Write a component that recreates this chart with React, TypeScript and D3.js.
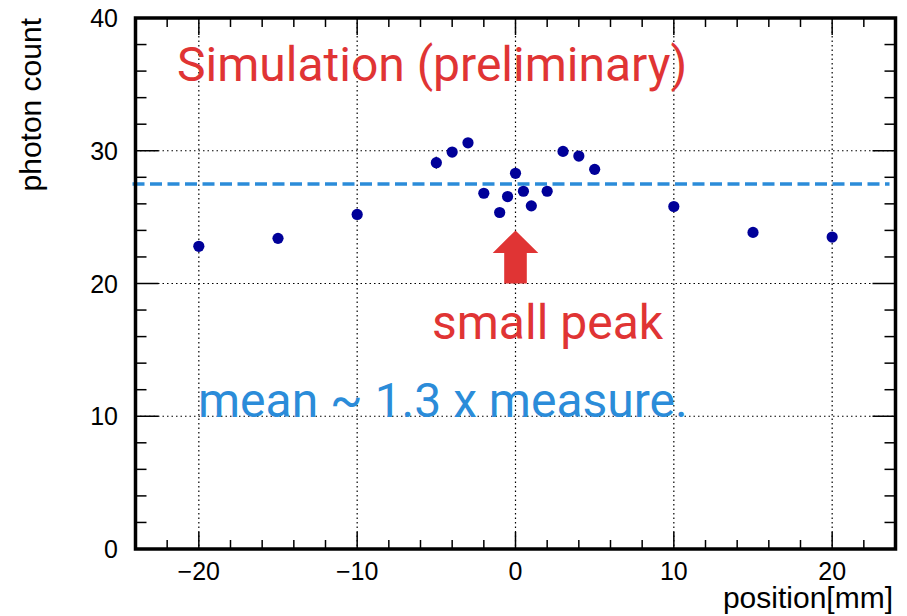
import React from "react";
import * as d3 from "d3";

const positions = [-20, -15, -10, -5, -4, -3, -2, -1, -0.5, 0, 0.5, 1, 2, 3, 4, 5, 10, 15, 20];
const photonCounts = [22.8, 23.4, 25.2, 29.1, 29.9, 30.6, 26.8, 25.35, 26.55, 28.3, 26.95, 25.85, 26.95, 29.95, 29.6, 28.6, 25.8, 23.85, 23.5];
const meanLevel = 27.5;
const xMajorTicks = [-20, -10, 0, 10, 20];
const yMajorTicks = [0, 10, 20, 30, 40];
const xTickLabels = ["\u221220", "\u221210", "0", "10", "20"];
const yTickLabels = ["0", "10", "20", "30", "40"];
const arrowPos = 0;
const arrowFrom = 20;
const arrowTo = 24;

const W = 907;
const H = 616;
const L = 135.5, R = 895.5, T = 18, B = 549;

export default function App() {
  const x = d3.scaleLinear().domain([-24, 24]).range([L, R]);
  const y = d3.scaleLinear().domain([0, 40]).range([B, T]);
  const xMinor = d3.range(-24, 24.01, 2).filter((v) => !xMajorTicks.includes(v));
  const yMinor = d3.range(0, 40.01, 2).filter((v) => !yMajorTicks.includes(v));
  const red = "#e03434";
  const blue = "#2b8cd9";
  const dot = "#000099";
  const tipY = y(arrowTo);
  const ax = x(arrowPos);
  const headBase = tipY + 22.5;
  const arrowPts = [
    [ax, tipY],
    [ax + 22.8, headBase],
    [ax + 11.3, headBase],
    [ax + 11.3, y(arrowFrom)],
    [ax - 11.3, y(arrowFrom)],
    [ax - 11.3, headBase],
    [ax - 22.8, headBase],
  ];
  const labelFont = "'Liberation Sans', Arial, Helvetica, sans-serif";
  const annFont = "Roboto, 'Noto Sans', sans-serif";

  return (
    <svg width={W} height={H} style={{ position: "absolute", left: 0, top: 0, background: "#fff" }}>
      <rect x={0} y={0} width={W} height={H} fill="#fff" />
      {/* grid */}
      {xMajorTicks.map((v) => (
        <line key={"gx" + v} x1={x(v)} x2={x(v)} y1={T} y2={B} stroke="#000" strokeWidth={1.2} strokeDasharray="1.5,3" />
      ))}
      {yMajorTicks.filter((v) => v > 0 && v < 40).map((v) => (
        <line key={"gy" + v} x1={L} x2={R} y1={y(v)} y2={y(v)} stroke="#000" strokeWidth={1.2} strokeDasharray="1.5,3" />
      ))}
      {/* ticks */}
      {xMajorTicks.map((v) => (
        <g key={"xt" + v}>
          <line x1={x(v)} x2={x(v)} y1={B} y2={B - 17} stroke="#000" strokeWidth={1.5} />
          <line x1={x(v)} x2={x(v)} y1={T} y2={T + 17} stroke="#000" strokeWidth={1.5} />
        </g>
      ))}
      {xMinor.map((v) => (
        <g key={"xm" + v}>
          <line x1={x(v)} x2={x(v)} y1={B} y2={B - 9} stroke="#000" strokeWidth={1.5} />
          <line x1={x(v)} x2={x(v)} y1={T} y2={T + 9} stroke="#000" strokeWidth={1.5} />
        </g>
      ))}
      {yMajorTicks.map((v) => (
        <g key={"yt" + v}>
          <line x1={L} x2={L + 23} y1={y(v)} y2={y(v)} stroke="#000" strokeWidth={1.5} />
          <line x1={R} x2={R - 23} y1={y(v)} y2={y(v)} stroke="#000" strokeWidth={1.5} />
        </g>
      ))}
      {yMinor.map((v) => (
        <g key={"ym" + v}>
          <line x1={L} x2={L + 11} y1={y(v)} y2={y(v)} stroke="#000" strokeWidth={1.5} />
          <line x1={R} x2={R - 11} y1={y(v)} y2={y(v)} stroke="#000" strokeWidth={1.5} />
        </g>
      ))}
      {/* mean dashed line */}
      <line x1={L - 3} x2={R - 6} y1={y(meanLevel)} y2={y(meanLevel)} stroke={blue} strokeWidth={3.5} strokeDasharray="12,5.5" />
      {/* points */}
      <line x1={x(-5)} x2={x(-5)} y1={y(photonCounts[3] + 0.45)} y2={y(photonCounts[3] - 0.45)} stroke="#000" strokeWidth={1.5} />
      {positions.map((p, i) => (
        <circle key={"pt" + i} cx={x(p)} cy={y(photonCounts[i])} r={5.6} fill={dot} />
      ))}
      {/* arrow */}
      <polygon points={arrowPts.map((p) => p.join(",")).join(" ")} fill={red} />
      {/* frame */}
      <rect x={L} y={T} width={R - L} height={B - T} fill="none" stroke="#000" strokeWidth={3.5} />
      {/* tick labels */}
      {xMajorTicks.map((v, i) => (
        <text key={"xl" + v} x={x(v)} y={580} textAnchor="middle" fontFamily={labelFont} fontSize={25} fill="#000">
          {xTickLabels[i]}
        </text>
      ))}
      {yMajorTicks.map((v, i) => (
        <text key={"yl" + v} x={118} y={y(v) + 9} textAnchor="end" fontFamily={labelFont} fontSize={25} fill="#000">
          {yTickLabels[i]}
        </text>
      ))}
      <text x={893} y={608} textAnchor="end" fontFamily={labelFont} fontSize={30} fill="#000">position[mm]</text>
      <text transform="translate(41,18) rotate(-90)" textAnchor="end" fontFamily={labelFont} fontSize={30} fill="#000">photon count</text>
      {/* annotations */}
      <text x={177} y={80.5} fontFamily={annFont} fontSize={48} fill={red}>Simulation (preliminary)</text>
      <text x={432} y={339} fontFamily={annFont} fontSize={48} fill={red}>small peak</text>
      <text x={198} y={417} fontFamily={annFont} fontSize={48} fill={blue}>mean ~ 1.3 x measure.</text>
    </svg>
  );
}
